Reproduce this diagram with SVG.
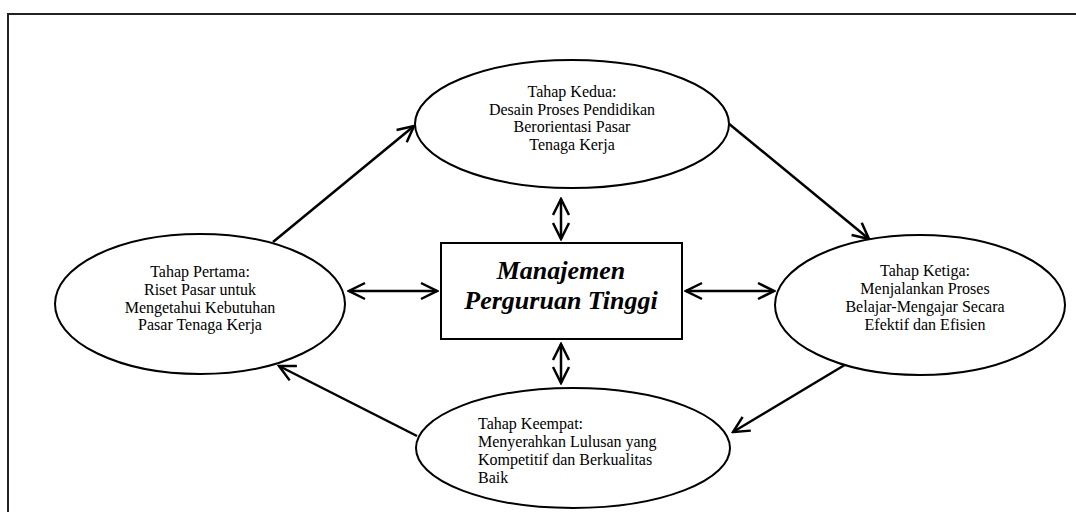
<svg xmlns="http://www.w3.org/2000/svg" width="1076" height="512" viewBox="0 0 1076 512">
<style>
.node{fill:#fff;stroke:#000;stroke-width:2}
.t{font-family:"Liberation Serif","Times New Roman",serif;font-size:16px;fill:#000}
.c{text-anchor:middle}
.big{font-family:"Liberation Serif","Times New Roman",serif;font-size:26px;font-weight:bold;font-style:italic;text-anchor:middle;fill:#000}
.ln{stroke:#000;stroke-width:2.5;fill:none}
</style>
<defs>
<marker id="ah" viewBox="0 0 20 20" refX="18" refY="10" markerWidth="20" markerHeight="20" markerUnits="userSpaceOnUse" orient="auto-start-reverse">
<path d="M2,2 L18,10 L2,18" fill="none" stroke="#000" stroke-width="2.5"/>
</marker>
</defs>
<rect x="8" y="14" width="1080" height="510" fill="#fff" stroke="#222" stroke-width="2"/>
<g id="connectors">
<line class="ln" x1="273" y1="242" x2="414" y2="126" marker-end="url(#ah)"/>
<line class="ln" x1="728" y1="123" x2="869" y2="239" marker-end="url(#ah)"/>
<line class="ln" x1="848" y1="363" x2="733" y2="432" marker-end="url(#ah)"/>
<line class="ln" x1="417" y1="436" x2="279" y2="366" marker-end="url(#ah)"/>
<line class="ln" x1="349" y1="291" x2="437" y2="291" marker-start="url(#ah)" marker-end="url(#ah)"/>
<line class="ln" x1="686" y1="291" x2="774" y2="291" marker-start="url(#ah)" marker-end="url(#ah)"/>
<line class="ln" x1="561" y1="199" x2="561" y2="239" marker-start="url(#ah)" marker-end="url(#ah)"/>
<line class="ln" x1="561" y1="344" x2="561" y2="383" marker-start="url(#ah)" marker-end="url(#ah)"/>
</g>
<g id="kedua">
<ellipse class="node" cx="572" cy="124" rx="157" ry="64"/>
<text class="t c" x="572" y="97">Tahap Kedua:</text>
<text class="t c" x="572" y="114.5">Desain Proses Pendidikan</text>
<text class="t c" x="572" y="132">Berorientasi Pasar</text>
<text class="t c" x="572" y="149.5">Tenaga Kerja</text>
</g>
<g id="pertama">
<ellipse class="node" cx="200" cy="304" rx="145" ry="70"/>
<text class="t c" x="200" y="277">Tahap Pertama:</text>
<text class="t c" x="200" y="295">Riset Pasar untuk</text>
<text class="t c" x="200" y="312.5">Mengetahui Kebutuhan</text>
<text class="t c" x="200" y="330">Pasar Tenaga Kerja</text>
</g>
<g id="ketiga">
<ellipse class="node" cx="920" cy="305" rx="145" ry="70"/>
<text class="t c" x="925" y="276">Tahap Ketiga:</text>
<text class="t c" x="925" y="294">Menjalankan Proses</text>
<text class="t c" x="925" y="312">Belajar-Mengajar Secara</text>
<text class="t c" x="925" y="330">Efektif dan Efisien</text>
</g>
<g id="keempat">
<ellipse class="node" cx="573" cy="448" rx="157" ry="60"/>
<text class="t" x="478" y="429">Tahap Keempat:</text>
<text class="t" x="478" y="447">Menyerahkan Lulusan yang</text>
<text class="t" x="478" y="465">Kompetitif dan Berkualitas</text>
<text class="t" x="478" y="483">Baik</text>
</g>
<g id="manajemen">
<rect class="node" x="441" y="243" width="241" height="96"/>
<text class="big" x="561" y="279">Manajemen</text>
<text class="big" x="561" y="309">Perguruan Tinggi</text>
</g>
</svg>
